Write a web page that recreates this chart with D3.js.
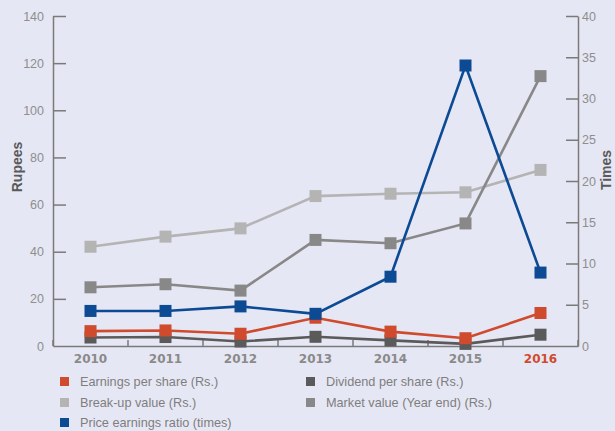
<!DOCTYPE html>
<html>
<head>
<meta charset="utf-8">
<script src="https://cdn.jsdelivr.net/npm/d3@7"></script>
<style>
  html, body { margin: 0; padding: 0; background: #e6e7f4; }
  svg { display: block; }
</style>
</head>
<body>
<svg id="chart" width="615" height="431" font-family="'Liberation Sans', Arial, sans-serif"></svg>
<script>
// Financial highlights 2010–2016
const years = ["2010", "2011", "2012", "2013", "2014", "2015", "2016"];
const earningsPerShare = [6.3, 6.6, 5.2, 12.0, 6.1, 3.3, 14.0];
const dividendPerShare = [3.6, 3.8, 1.9, 3.9, 2.4, 0.9, 4.8];
const breakUpValue = [42.1, 46.4, 49.9, 63.6, 64.6, 65.2, 74.7];
const marketValue = [24.9, 26.2, 23.5, 45.0, 43.6, 52.0, 114.5];
const priceEarningsRatio = [4.25, 4.25, 4.8, 3.9, 8.4, 34.0, 8.9];

const leftTicks = [0, 20, 40, 60, 80, 100, 120, 140];
const rightTicks = [0, 5, 10, 15, 20, 25, 30, 35, 40];

const seriesNames = [
  "Earnings per share (Rs.)",
  "Dividend per share (Rs.)",
  "Break-up value (Rs.)",
  "Market value (Year end) (Rs.)",
  "Price earnings ratio (times)"
];
const seriesColors = ["#d04b2d", "#5a5a5a", "#b4b4b4", "#888888", "#0c4a94"];

const svg = d3.select("#chart");
const plotLeft = 53, plotRight = 578, plotTop = 16, plotBottom = 346;

const x = d3.scaleBand().domain(years).range([plotLeft, plotRight]);
const yL = d3.scaleLinear().domain([0, 140]).range([plotBottom, plotTop]);
const yR = d3.scaleLinear().domain([0, 40]).range([plotBottom, plotTop]);

const axisColor = "#7a7a7a";
const labelColor = "#8e8e8e";

// Left axis (Rupees)
const gL = svg.append("g").attr("transform", `translate(${plotLeft},0)`)
  .call(d3.axisLeft(yL).tickValues(leftTicks).tickSizeInner(-13).tickSizeOuter(0).tickPadding(9));
// Right axis (Times)
const gR = svg.append("g").attr("transform", `translate(${plotRight},0)`)
  .call(d3.axisRight(yR).tickValues(rightTicks).tickSizeInner(-12).tickSizeOuter(0).tickPadding(4));
[gL, gR].forEach(g => {
  g.select(".domain").attr("stroke", axisColor).attr("stroke-width", 1.5);
  g.selectAll(".tick line").attr("stroke", axisColor).attr("stroke-width", 1.5);
  g.selectAll(".tick text").attr("fill", labelColor).attr("font-size", 12.5)
    .attr("font-family", "'Liberation Sans', Arial, sans-serif");
});
gR.selectAll(".tick").filter(d => d === 0).select("line").remove();
gL.selectAll(".tick").filter(d => d === 0).select("line").remove();

// Bottom axis with separators between years
const gB = svg.append("g").attr("transform", `translate(0,${plotBottom})`)
  .call(d3.axisBottom(x).tickSize(0).tickPadding(8));
gB.select(".domain").attr("stroke", axisColor).attr("stroke-width", 1.5);
gB.selectAll(".tick text")
  .attr("font-family", "'DejaVu Sans', sans-serif")
  .attr("font-weight", "bold")
  .attr("font-size", 12)
  .attr("fill", d => d === "2016" ? "#d04b2d" : "#8a8a8a");
const bounds = years.map(d => x(d)).concat([x(years[years.length - 1]) + x.bandwidth()]);
gB.selectAll("line.sep").data(bounds).join("line")
  .attr("class", "sep")
  .attr("x1", d => d).attr("x2", d => d)
  .attr("y1", 0).attr("y2", -6)
  .attr("stroke", axisColor).attr("stroke-width", 1.5);

// Axis titles
svg.append("text")
  .attr("transform", `translate(22,${(plotTop + plotBottom) / 2 - 14}) rotate(-90)`)
  .attr("text-anchor", "middle")
  .attr("font-size", 14).attr("font-weight", "bold").attr("fill", "#595959")
  .text("Rupees");
svg.append("text")
  .attr("transform", `translate(611,${(plotTop + plotBottom) / 2 - 11}) rotate(-90)`)
  .attr("text-anchor", "middle")
  .attr("font-size", 14).attr("font-weight", "bold").attr("fill", "#595959")
  .text("Times");

// Series drawing
const cx = d => x(d) + x.bandwidth() / 2;
function drawSeries(values, scale, color) {
  const pts = years.map((yr, i) => [cx(yr), scale(values[i])]);
  svg.append("path")
    .attr("d", d3.line()(pts))
    .attr("fill", "none").attr("stroke", color).attr("stroke-width", 2.6);
  svg.append("g").selectAll("rect").data(pts).join("rect")
    .attr("x", p => p[0] - 6).attr("y", p => p[1] - 6)
    .attr("width", 12).attr("height", 12)
    .attr("fill", color);
}
drawSeries(breakUpValue, yL, seriesColors[2]);
drawSeries(marketValue, yL, seriesColors[3]);
drawSeries(dividendPerShare, yL, seriesColors[1]);
drawSeries(earningsPerShare, yL, seriesColors[0]);
drawSeries(priceEarningsRatio, yR, seriesColors[4]);

// Legend
const legendPos = [[60, 382], [306, 382], [60, 403], [306, 403], [60, 423]];
const lg = svg.append("g").selectAll("g").data(seriesNames).join("g")
  .attr("transform", (d, i) => `translate(${legendPos[i][0]},${legendPos[i][1]})`);
lg.append("rect").attr("x", 0).attr("y", -5).attr("width", 9).attr("height", 9)
  .attr("fill", (d, i) => seriesColors[i]);
lg.append("text").attr("x", 20).attr("y", 0).attr("dy", "0.35em")
  .attr("font-size", 12.7).attr("fill", "#7e7e7e")
  .text(d => d);
</script>
</body>
</html>
